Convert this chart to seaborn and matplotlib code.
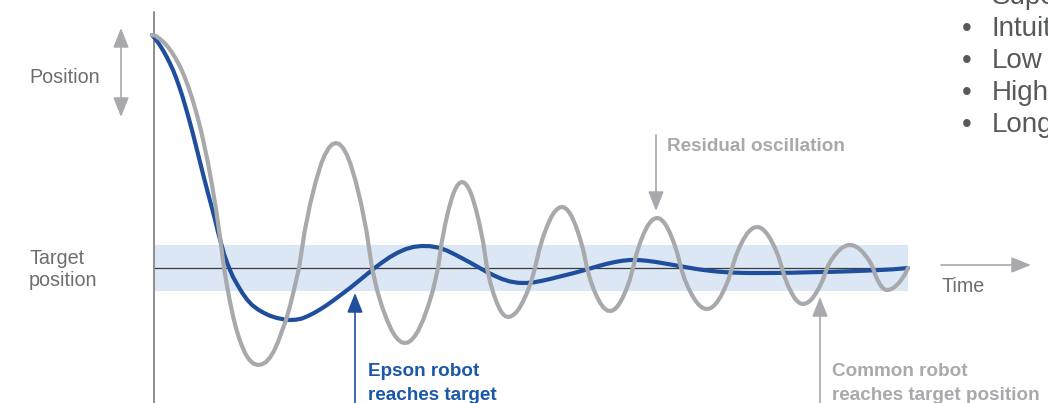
import numpy as np
import pandas as pd
import matplotlib
matplotlib.use("Agg")
import matplotlib.pyplot as plt
import seaborn as sns

# ---------------- data (time units, position relative to target) ----------------
common_time = [0, 4, 8, 12, 16, 20, 24, 28, 32, 36, 40, 44, 48, 52, 56, 60, 64, 68, 72,
               75, 78, 81, 84, 87, 90, 93, 96, 99, 102, 106,
               110, 114, 118, 122, 126, 130, 134, 138, 141, 144, 147,
               152.6, 158.1, 163.7, 169.2, 172.9, 176.6, 180.3, 184,
               187.6, 191.2, 194.8, 198.4, 203.8, 209.2, 214.6, 220,
               225, 229.9, 234.9, 239.8, 243.1, 246.4, 249.7, 253,
               256.3, 259.6, 262.9, 266.2, 271.2, 276.1, 281.1, 286,
               289.6, 293.2, 296.8, 300.4, 302.8, 305.2, 307.6, 310,
               312.5, 315, 317.5, 320, 323.8, 327.5, 331.3, 335,
               338.2, 341.3, 344.5, 347.6, 349.7, 351.8, 353.9, 356,
               358.7, 361.4, 364.1, 366.8, 370.9, 374.9, 379, 383,
               387.1, 391.1, 395.2, 399.2, 401.9, 404.6, 407.3, 410,
               412.5, 415, 417.5, 420, 423.8, 427.5, 431.3, 435,
               438.5, 441.9, 445.4, 448.8, 451.1, 453.4, 455.7, 458,
               460.3, 462.6, 464.9, 467.2, 470.7, 474.1, 477.6, 481,
               484.6, 488.2, 491.8, 495.4, 497.8, 500.2, 502.6, 505,
               507.4, 509.8, 512.2, 514.6, 518.2, 521.8, 525.4, 529,
               532.9, 536.8, 540.7, 544.6, 547.2, 549.8, 552.4, 555,
               557.5, 560, 562.5, 565, 568.8, 572.5, 576.3, 580,
               583.8, 587.5, 591.3, 595, 597.5, 600, 602.5, 605,
               607.5, 610, 612.5, 615, 618.8, 622.5, 626.3, 630,
               633.2, 636.3, 639.5, 642.6, 644.7, 646.8, 648.9, 651,
               653.4, 655.8, 658.2, 660.6, 664.2, 667.8, 671.4, 675,
               678.5, 681.9, 685.4, 688.8, 691.1, 693.4, 695.7, 698,
               700.3, 702.6, 704.9, 707.2, 710.7, 714.1, 717.6, 721,
               723.1, 725.2, 727.3, 729.4, 730.8, 732.2, 733.6, 735,
               737.1, 739.2, 741.3, 743.4, 746.6, 749.7, 752.9, 756]
common_pos = [233, 232, 229, 225.5, 221, 215.5, 209, 201.5, 192.5, 182, 170, 156.5, 141.5, 124, 105, 83, 59, 31, 0,
              -18, -34, -48, -60, -70, -78, -85, -90, -93.5, -95.8, -97,
              -96.3, -94, -89.5, -83, -74, -63, -52, -38, -26, -13, 0,
              36.3, 63.8, 86.3, 104.4, 113.3, 119.8, 123.8, 125,
              123.8, 119.8, 113.3, 104.4, 86.3, 63.8, 36.3, 0,
              -21.8, -38.3, -51.8, -62.6, -68, -71.9, -74.3, -75,
              -74.3, -71.9, -68, -62.6, -51.8, -38.3, -21.8, 0,
              24.9, 43.9, 59.3, 71.8, 77.9, 82.4, 85.1, 86,
              85.1, 82.4, 77.9, 71.8, 59.3, 43.9, 24.9, 0,
              -14.2, -25, -33.8, -40.9, -44.4, -46.9, -48.5, -49,
              -48.5, -46.9, -44.4, -40.9, -33.8, -25, -14.2, 0,
              17.7, 31.1, 42.1, 50.9, 55.3, 58.4, 60.4, 61,
              60.4, 58.4, 55.3, 50.9, 42.1, 31.1, 17.7, 0,
              -12.5, -21.9, -29.7, -35.9, -39, -41.2, -42.6, -43,
              -42.6, -41.2, -39, -35.9, -29.7, -21.9, -12.5, 0,
              14.5, 25.5, 34.5, 41.8, 45.3, 47.9, 49.5, 50,
              49.5, 47.9, 45.3, 41.8, 34.5, 25.5, 14.5, 0,
              -11.9, -20.9, -28.3, -34.2, -37.1, -39.3, -40.6, -41,
              -40.6, -39.3, -37.1, -34.2, -28.3, -20.9, -11.9, 0,
              11.9, 20.9, 28.3, 34.2, 37.1, 39.3, 40.6, 41,
              40.6, 39.3, 37.1, 34.2, 28.3, 20.9, 11.9, 0,
              -10.4, -18.4, -24.8, -30.1, -32.6, -34.5, -35.6, -36,
              -35.6, -34.5, -32.6, -30.1, -24.8, -18.4, -10.4, 0,
              6.7, 11.7, 15.9, 19.2, 20.8, 22, 22.8, 23,
              22.8, 22, 20.8, 19.2, 15.9, 11.7, 6.7, 0,
              -6.4, -11.2, -15.2, -18.4, -19.9, -21.1, -21.8, -22,
              -21.8, -21.1, -19.9, -18.4, -15.2, -11.2, -6.4, 0]

epson_time = [0, 3, 6, 9, 12, 15, 18, 21, 24, 27, 30, 33, 36, 39, 42, 45, 48, 51, 54, 57,
              60, 63, 66, 69, 72, 75, 78, 81, 85, 90, 95, 100, 106, 112, 118, 125, 132,
              138, 144, 150, 156, 162, 168, 175, 182, 190, 198, 206, 214, 222, 230, 238,
              246, 254, 262, 270, 278, 286, 294, 302, 310, 318, 326, 334, 342, 350, 358,
              366, 374, 382, 390, 398, 406, 414, 422, 430, 438, 446, 454, 462, 470, 478,
              486, 494, 502, 510, 518, 526, 534, 542, 550, 558, 566, 574, 584, 596, 610,
              625, 640, 660, 680, 700, 720, 740, 756]
epson_pos = [233, 229.5, 225.5, 221, 216, 210.5, 204.5, 198, 190.5, 182, 173, 163, 152.5, 141.5, 130, 118, 106, 94, 82.5, 71,
             60, 48.5, 36, 25, 14, 5.5, -2, -9, -16, -24.5, -31.5, -37, -41.5, -45, -47.8, -50, -51.4,
             -52, -51.7, -50.5, -48, -45, -41.5, -37, -32, -26, -20, -13.5, -7, -0.5, 5.5, 11,
             15.5, 19, 21.2, 22, 21.8, 20.5, 17.8, 14, 9.8, 5.5, 1, -3.5, -7.5, -11, -13.5,
             -14.8, -15, -14.3, -12.8, -11, -9, -7, -5, -2.8, -0.5, 1.8, 4, 5.8, 7.2, 8,
             8, 7.3, 6.3, 5, 3.6, 2.2, 0.8, -0.6, -1.8, -2.8, -3.6, -4.2, -4.7, -5, -5,
             -4.9, -4.7, -4.2, -3.8, -3.2, -2.4, -1.4, 0]

series_names = ["Common robot", "Epson robot"]
bullet_items = ["Supe", "Intuit", "Low", "High", "Long"]

# ---------------- styling ----------------
sns.set_theme(style="white")
plt.rcParams["font.family"] = ["Liberation Sans", "DejaVu Sans"]

GRAY = "#a7a9ac"
BLUE = "#1f4e9d"
BLUE_TXT = "#1c58a8"
LABEL = "#6d6e71"
DARK = "#58595b"

fig = plt.figure(figsize=(10.48, 4.03), dpi=100)
ax = fig.add_axes([0, 0, 1, 1])
ax.set_xlim(-152, 896)
ax.set_ylim(-135, 268)
ax.axis("off")

# tolerance band and target line
ax.fill_between([2, 756], -23, 23, color="#dce7f5", lw=0, zorder=0)
ax.plot([2, 756], [0, 0], color="#3c3c3e", lw=0.9, zorder=1)
# vertical axis
ax.plot([2, 2], [-140, 256], color="#8c8d8f", lw=1.4, zorder=1)

df = pd.concat([
    pd.DataFrame({"time": common_time, "position": common_pos, "robot": series_names[0]}),
    pd.DataFrame({"time": epson_time, "position": epson_pos, "robot": series_names[1]}),
], ignore_index=True)

n_before = len(ax.lines)
sns.lineplot(data=df, x="time", y="position", hue="robot", units="robot",
             estimator=None, sort=False,
             palette={series_names[0]: GRAY, series_names[1]: BLUE},
             lw=3.0, legend=False, ax=ax)
for ln in ax.lines[n_before:]:
    ln.set_solid_capstyle("round")
    ln.set_solid_joinstyle("round")
    ln.set_zorder(4 if ln.get_color() == GRAY else 3)

def arrow(x0, y0, x1, y1, color, both=False):
    style = "<|-|>" if both else "-|>"
    ax.annotate("", xy=(x1, y1), xytext=(x0, y0),
                arrowprops=dict(arrowstyle=f"{style},head_length=0.6,head_width=0.24",
                                mutation_scale=20, color=color, lw=1.2,
                                shrinkA=0, shrinkB=0),
                annotation_clip=False, zorder=5)

arrow(-31, 151, -31, 240, GRAY, both=True)   # position
arrow(789, 3, 879, 3, GRAY)                  # time
arrow(504, 133, 504, 57, GRAY)               # residual oscillation
arrow(203, -150, 203, -25, BLUE)             # epson
arrow(668, -150, 668, -29, GRAY)             # common

fs = 14.2
ax.text(-123, 185, "Position", color=LABEL, fontsize=fs, va="baseline", ha="left")
ax.text(-123, 4, "Target", color=LABEL, fontsize=fs, va="baseline", ha="left")
ax.text(-123, -18, "position", color=LABEL, fontsize=fs, va="baseline", ha="left")
ax.text(789, -24, "Time", color=LABEL, fontsize=fs, va="baseline", ha="left")

afs = 13.6
ax.text(515, 117, "Residual oscillation", color=GRAY, fontsize=afs, fontweight="bold",
        va="baseline", ha="left")
ax.text(216, -108, "Epson robot", color=BLUE_TXT, fontsize=afs, fontweight="bold",
        va="baseline", ha="left")
ax.text(216, -132, "reaches target", color=BLUE_TXT, fontsize=afs, fontweight="bold",
        va="baseline", ha="left")
ax.text(680, -108, "Common robot", color=GRAY, fontsize=afs, fontweight="bold",
        va="baseline", ha="left")
ax.text(680, -132, "reaches target position", color=GRAY, fontsize=afs, fontweight="bold",
        va="baseline", ha="left")

# bullet list (cut off at the right edge, as in the original)
base = [264, 232, 200, 168, 136]
for i, (item, b) in enumerate(zip(bullet_items, base)):
    ax.text(840, b, item, color=DARK, fontsize=20, va="baseline", ha="left", clip_on=False)
    if i > 0:
        ax.text(815, b, "\u2022", color=DARK, fontsize=20, va="baseline", ha="center")

fig.savefig("out.png", dpi=100)
